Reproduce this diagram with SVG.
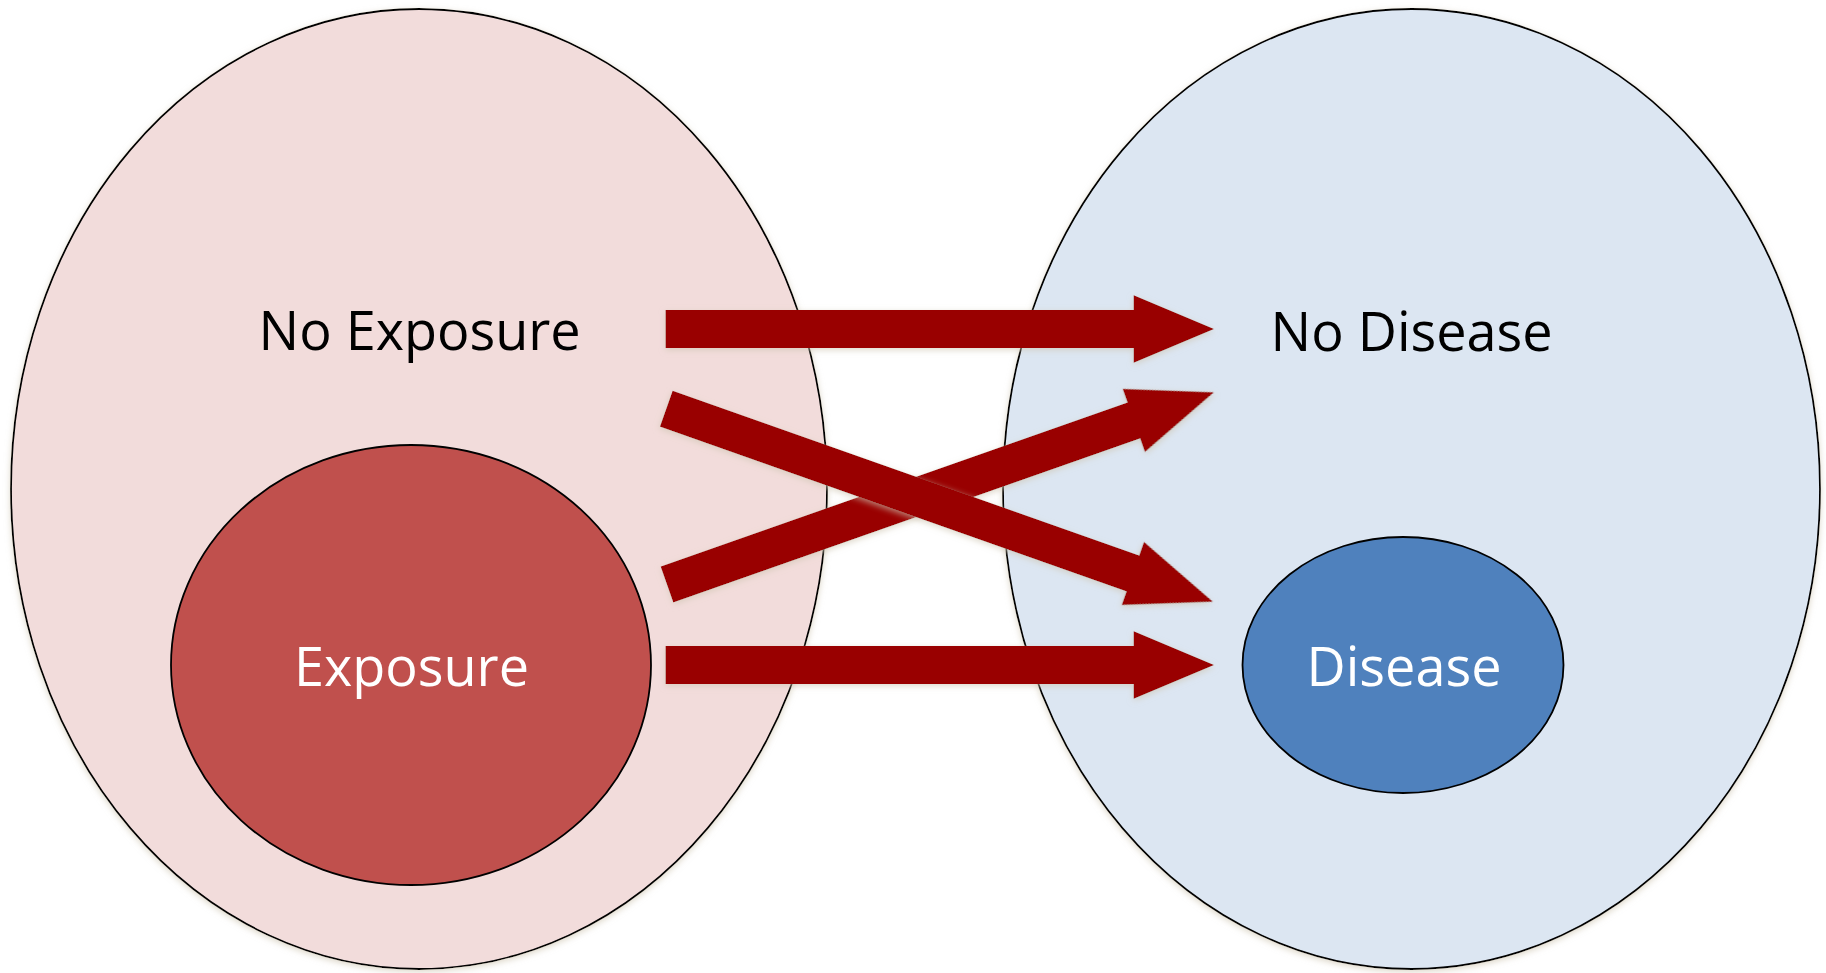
<svg xmlns="http://www.w3.org/2000/svg" width="1826" height="973" viewBox="0 0 1826 973">
  <style>
    .set { stroke: #000; stroke-width: 1.8; }
    .label { font-family: "Open Sans", "Noto Sans", "Liberation Sans", sans-serif; font-size: 54px; text-anchor: middle; }
    .dark { fill: #000; }
    .light { fill: #fff; }
    .arrow { fill: #990000; }
  </style>
  <defs>
    <filter id="soft" x="-10%" y="-10%" width="120%" height="130%">
      <feGaussianBlur in="SourceAlpha" stdDeviation="3"/>
      <feOffset dx="0" dy="2" result="blur"/>
      <feFlood flood-color="#cfc6b2" flood-opacity="0.7"/>
      <feComposite in2="blur" operator="in" result="shadow"/>
      <feMerge>
        <feMergeNode in="shadow"/>
        <feMergeNode in="SourceGraphic"/>
      </feMerge>
    </filter>
    <path id="diag" d="M0,-19 H494.8 V-33.6 L579.8,0 L494.8,33.6 V19 H0 Z"/>
  </defs>

  <rect width="1826" height="973" fill="#fff"/>

  <g id="no-exposure">
    <ellipse class="set" cx="419" cy="489" rx="408" ry="480" fill="#F2DCDB" filter="url(#soft)"/>
    <text class="label dark" x="419.6" y="350">No Exposure</text>
  </g>

  <g id="no-disease">
    <ellipse class="set" cx="1411.5" cy="489" rx="408.5" ry="480" fill="#DCE6F2" filter="url(#soft)"/>
    <text class="label dark" x="1411.6" y="351">No Disease</text>
  </g>

  <g id="exposure">
    <ellipse class="set" cx="411" cy="665" rx="240" ry="220" fill="#C0504D"/>
    <text class="label light" x="411.5" y="686">Exposure</text>
  </g>

  <g id="disease">
    <ellipse class="set" cx="1403" cy="665" rx="160.5" ry="128" fill="#4F81BD"/>
    <text class="label light" x="1404" y="686">Disease</text>
  </g>

  <g id="connectors">
    <path class="arrow" filter="url(#soft)" d="M665.6,310 H1133.7 V295.2 L1214,329 L1133.7,362.8 V348 H665.6 Z"/>
    <path class="arrow" filter="url(#soft)" d="M665.6,646 H1133.7 V631.2 L1214,665 L1133.7,698.8 V684 H665.6 Z"/>
    <use href="#diag" class="arrow" filter="url(#soft)" transform="translate(667,584.5) rotate(-19.36)"/>
    <use href="#diag" class="arrow" filter="url(#soft)" transform="translate(666.3,408.7) rotate(19.45)"/>
  </g>
</svg>
